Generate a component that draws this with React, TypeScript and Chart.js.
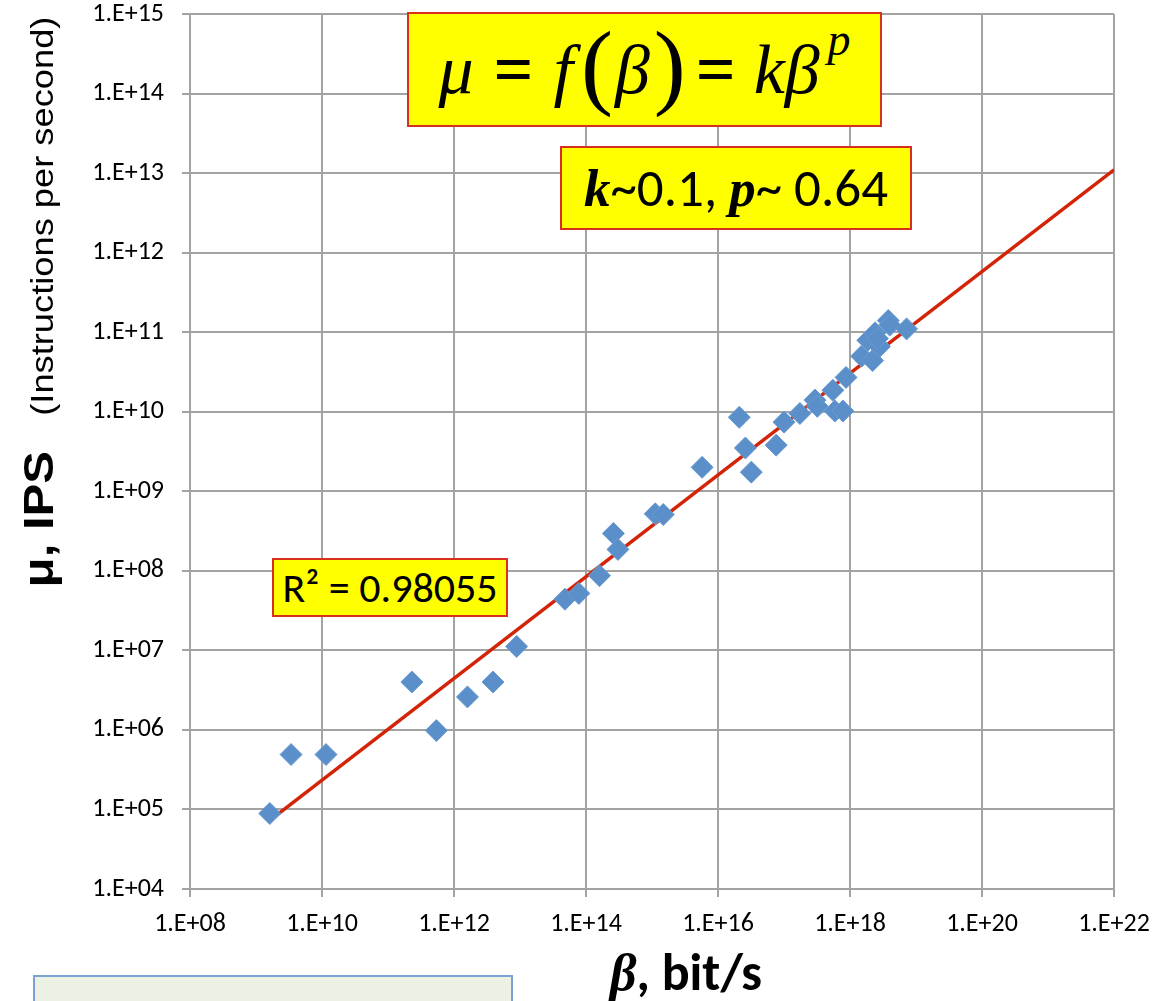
import React, { useEffect, useRef } from "react";
import { Chart, registerables } from "chart.js";

Chart.register(...registerables);

// β (bit/s) and μ (instructions per second)
const betaValues = [
  1.62e9, 3.4e9, 1.15e10, 2.3e11, 5.4e11, 1.6e12, 3.9e12, 8.9e12, 4.8e13, 7.8e13,
  1.6e14, 2.6e14, 3.05e14, 1.12e15, 1.48e15, 5.75e15, 2.1e16, 2.6e16, 3.2e16, 7.6e16,
  1.0e17, 1.74e17, 2.95e17, 3.2e17, 5.5e17, 5.9e17, 7.8e17, 8.7e17, 1.5e18, 2.2e18,
  1.86e18, 2.4e18, 2.8e18, 2.6e18, 3.8e18, 4.0e18, 7.2e18,
];
const muValues = [
  8.9e4, 4.9e5, 4.9e5, 4.0e6, 9.8e5, 2.6e6, 4.0e6, 1.12e7, 4.4e7, 5.2e7,
  8.7e7, 2.95e8, 1.86e8, 5.2e8, 5.1e8, 2.0e9, 8.5e9, 3.5e9, 1.74e9, 3.8e9,
  7.4e9, 9.5e9, 1.4e10, 1.17e10, 1.86e10, 1.02e10, 1.02e10, 2.7e10, 5.0e10, 4.4e10,
  7.9e10, 9.8e10, 6.6e10, 8.3e10, 1.4e11, 1.23e11, 1.1e11,
];

// power-law trend line end points
const trendBeta = [1.62e9, 1e22];
const trendMu = [7.3e4, 1.1e13];

const xTickValues = [1e8, 1e10, 1e12, 1e14, 1e16, 1e18, 1e20, 1e22];
const xTickLabels = ["1.E+08", "1.E+10", "1.E+12", "1.E+14", "1.E+16", "1.E+18", "1.E+20", "1.E+22"];
const yTickValues = [1e4, 1e5, 1e6, 1e7, 1e8, 1e9, 1e10, 1e11, 1e12, 1e13, 1e14, 1e15];
const yTickLabels = [
  "1.E+04", "1.E+05", "1.E+06", "1.E+07", "1.E+08", "1.E+09",
  "1.E+10", "1.E+11", "1.E+12", "1.E+13", "1.E+14", "1.E+15",
];

const W = 1152;
const H = 1001;
const GRID = "#A3A3A3";
const SANS = "Carlito, Lato, 'Open Sans', sans-serif";
const TICK_FONT = { family: SANS, size: 26 };
const SERIF = "'Liberation Serif', 'DejaVu Serif', serif";
const ARIAL = "'Liberation Sans', Arial, sans-serif";

export default function App() {
  const canvasRef = useRef<HTMLCanvasElement | null>(null);

  useEffect(() => {
    const canvas = canvasRef.current;
    if (!canvas) return;
    const points = betaValues.map((b, i) => ({ x: b, y: muValues[i] }));
    const trend = trendBeta.map((b, i) => ({ x: b, y: trendMu[i] }));
    const chart = new Chart(canvas, {
      type: "scatter",
      data: {
        datasets: [
          {
            label: "data",
            data: points,
            pointStyle: "rectRot",
            pointRadius: 11,
            backgroundColor: "#5B8FC9",
            borderColor: "#6A9AD0",
            borderWidth: 1,
            order: 0,
          },
          {
            label: "trend",
            type: "line",
            data: trend,
            borderColor: "#D42408",
            borderWidth: 3.5,
            pointRadius: 0,
            fill: false,
            order: 1,
          },
        ],
      },
      options: {
        responsive: false,
        animation: false,
        events: [],
        layout: { padding: { left: 0, top: 14, right: 38, bottom: 0 } },
        plugins: { legend: { display: false }, tooltip: { enabled: false } },
        scales: {
          x: {
            type: "logarithmic",
            position: "bottom",
            min: 1e8,
            max: 1e22,
            afterBuildTicks: (s: any) => {
              s.ticks = xTickValues.map((v) => ({ value: v }));
            },
            afterFit: (s: any) => {
              s.height = 112;
              s.paddingLeft = 0;
              s.paddingRight = 0;
            },
            ticks: {
              callback: (_v: any, i: number) => xTickLabels[i],
              font: TICK_FONT,
              color: "#000",
              padding: 12,
              maxRotation: 0,
              autoSkip: false,
            },
            grid: { color: GRID, lineWidth: 2, tickLength: 8, tickColor: GRID },
            border: { color: GRID, width: 2 },
          },
          y: {
            type: "logarithmic",
            position: "left",
            min: 1e4,
            max: 1e15,
            afterBuildTicks: (s: any) => {
              s.ticks = yTickValues.map((v) => ({ value: v }));
            },
            afterFit: (s: any) => {
              s.width = 190;
              s.paddingTop = 0;
              s.paddingBottom = 0;
            },
            ticks: {
              callback: (_v: any, i: number) => yTickLabels[i],
              font: TICK_FONT,
              color: "#000",
              padding: 18,
              autoSkip: false,
            },
            grid: { color: GRID, lineWidth: 2, tickLength: 8, tickColor: GRID },
            border: { color: GRID, width: 2 },
          },
        },
      },
    });
    return () => chart.destroy();
  }, []);

  const abs = (l: number, t: number, w: number, h: number): React.CSSProperties => ({
    position: "absolute",
    left: l,
    top: t,
    width: w,
    height: h,
    boxSizing: "border-box",
  });

  const yellowBox: React.CSSProperties = {
    background: "#FFFF00",
    border: "2px solid #D8301E",
    display: "flex",
    alignItems: "center",
    justifyContent: "center",
    whiteSpace: "nowrap",
    color: "#000",
  };

  return (
    <div style={{ position: "fixed", left: 0, top: 0, width: W, height: H, background: "#fff", overflow: "hidden" }}>
      <canvas ref={canvasRef} width={W} height={H} style={{ position: "absolute", left: 0, top: 0, width: W, height: H }} />

      {/* formula box */}
      <div style={{ ...abs(407, 12, 475, 115), ...yellowBox, fontFamily: SERIF, fontSize: 70, lineHeight: 1 }}>
        <span style={{ fontStyle: "italic" }}>μ</span>
        <span style={{ fontWeight: "bold", margin: "0 20px" }}>=</span>
        <span style={{ fontStyle: "italic" }}>f</span>
        <span style={{ fontSize: 96, fontWeight: 300, margin: "0 2px 0 8px", position: "relative", top: -5 }}>(</span>
        <span style={{ fontStyle: "italic" }}>β</span>
        <span style={{ fontSize: 96, fontWeight: 300, margin: "0 10px 0 4px", position: "relative", top: -5 }}>)</span>
        <span style={{ fontWeight: "bold", margin: "0 18px 0 0" }}>=</span>
        <span style={{ fontStyle: "italic" }}>kβ</span>
        <span style={{ fontStyle: "italic", fontSize: 46, position: "relative", top: -30, marginLeft: 8 }}>p</span>
      </div>

      {/* parameters box */}
      <div style={{ ...abs(560, 146, 352, 84), ...yellowBox, fontFamily: SANS, fontSize: 53, lineHeight: 1 }}>
        <span style={{ fontFamily: SERIF, fontStyle: "italic", fontWeight: "bold" }}>k</span>
        <span>~0.1,&nbsp;</span>
        <span style={{ fontFamily: SERIF, fontStyle: "italic", fontWeight: "bold" }}>p</span>
        <span>~ 0.64</span>
      </div>

      {/* R squared box */}
      <div style={{ ...abs(272, 558, 236, 59), ...yellowBox, fontFamily: SANS, fontSize: 42, lineHeight: 1 }}>
        <span>R² = 0.98055</span>
      </div>

      {/* y axis title */}
      <div
        style={{
          position: "absolute",
          left: 45 - 300,
          top: 302 - 30,
          width: 600,
          height: 60,
          transform: "rotate(-90deg) scaleX(1.17)",
          display: "flex",
          alignItems: "baseline",
          justifyContent: "center",
          whiteSpace: "nowrap",
          fontFamily: ARIAL,
          color: "#000",
        }}
      >
        <span style={{ fontWeight: "bold", fontSize: 42 }}>μ, IPS</span>
        <span style={{ fontSize: 31, marginLeft: 30 }}>(Instructions per second)</span>
      </div>

      {/* x axis title */}
      <div
        style={{
          position: "absolute",
          left: 486,
          top: 946,
          width: 400,
          height: 60,
          display: "flex",
          alignItems: "baseline",
          justifyContent: "center",
          whiteSpace: "nowrap",
          fontFamily: SANS,
          fontWeight: "bold",
          fontSize: 52,
          color: "#000",
          lineHeight: 1,
        }}
      >
        <span style={{ fontFamily: SERIF, fontStyle: "italic" }}>β</span>
        <span>, bit/s</span>
      </div>

      {/* light note box at the bottom */}
      <div style={{ ...abs(33, 975, 480, 60), background: "#EBF1E3", border: "2px solid #7AA3D4" }} />
    </div>
  );
}
